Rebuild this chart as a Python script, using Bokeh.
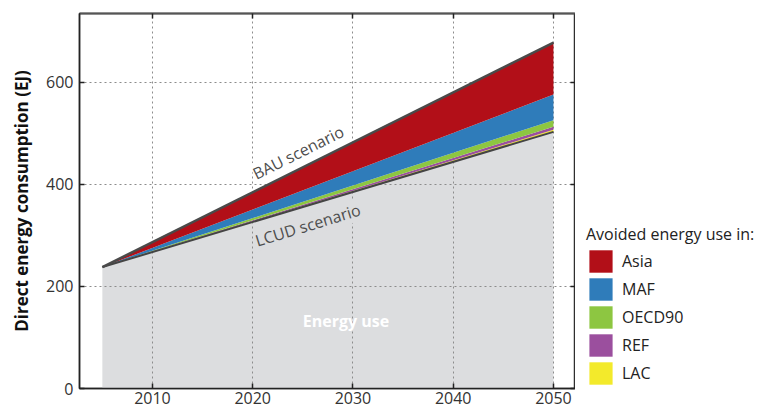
from bokeh.plotting import figure
from bokeh.layouts import row
from bokeh.models import ColumnDataSource, Range1d, LinearAxis, FixedTicker, Legend, LegendItem
from bokeh.core.properties import value
from bokeh.embed import file_html
from bokeh.resources import INLINE

# ---- data ----
years = [2005, 2050]
lcud = [238, 503]          # LCUD scenario energy use (EJ)
avoided_lac = [0, 4]
avoided_ref = [0, 6]
avoided_oecd90 = [0, 13]
avoided_maf = [0, 50]
avoided_asia = [0, 102]
regions = ["LAC", "REF", "OECD90", "MAF", "Asia"]
region_colors = ["#f3ea2b", "#9b4f9e", "#8dc641", "#2f7cba", "#b20f18"]
legend_order = ["Asia", "MAF", "OECD90", "REF", "LAC"]
x_ticks = [2010, 2020, 2030, 2040, 2050]
y_ticks = [0, 200, 400, 600]

FONT = "Open Sans"

src = ColumnDataSource(dict(
    years=years, LCUD=lcud, LAC=avoided_lac, REF=avoided_ref,
    OECD90=avoided_oecd90, MAF=avoided_maf, Asia=avoided_asia,
))
bau = [l + a + b + c + d + e for l, a, b, c, d, e in
       zip(lcud, avoided_lac, avoided_ref, avoided_oecd90, avoided_maf, avoided_asia)]

p = figure(frame_width=496, frame_height=375, x_range=Range1d(2002.72, 2052.2),
           y_range=Range1d(0, 735), output_backend="svg", toolbar_location=None,
           min_border_left=79, min_border_right=0, min_border_top=13, min_border_bottom=23)
p.outline_line_color = "#333333"
p.outline_line_width = 1.5

renderers = p.varea_stack(["LCUD"] + regions, x="years", source=src,
                          color=["#dcdddf"] + region_colors)
renderers[0].level = "image"

p.line(years, lcud, line_color="#444444", line_width=2)
p.line(years, bau, line_color="#4a4a4a", line_width=2.5)

# axes
bottom = p.xaxis[0]
left = p.yaxis[0]
bottom.ticker = FixedTicker(ticks=x_ticks)
left.ticker = FixedTicker(ticks=y_ticks)
top = LinearAxis(ticker=FixedTicker(ticks=x_ticks), major_label_text_font_size="1px",
                 major_label_text_color=None, major_label_standoff=0)
right = LinearAxis(ticker=FixedTicker(ticks=y_ticks), major_label_text_font_size="1px",
                   major_label_text_color=None, major_label_standoff=0)
p.add_layout(top, "above")
p.add_layout(right, "right")
for ax in [bottom, left, top, right]:
    ax.major_tick_in = 5
    ax.major_tick_out = 0
    ax.minor_tick_line_color = None
    ax.axis_line_color = "#222222"
    ax.axis_line_width = 1.5
    ax.major_tick_line_color = "#222222"
    ax.major_tick_line_width = 1.5
for ax in [bottom, left]:
    ax.major_label_text_font = FONT
    ax.major_label_text_font_size = "16px"
    ax.major_label_text_color = "#333333"
left.major_label_standoff = 6
bottom.major_label_standoff = 3
top.axis_line_color = "#555555"
top.axis_line_width = 2

left.axis_label = "Direct energy consumption (EJ)"
left.axis_label_text_font = FONT
left.axis_label_text_font_style = "bold"
left.axis_label_text_font_size = "17px"
left.axis_label_text_color = "#111111"
left.axis_label_standoff = 10

p.xgrid.ticker = FixedTicker(ticks=x_ticks)
p.ygrid.ticker = FixedTicker(ticks=y_ticks)
p.grid.grid_line_dash = "2 3"
p.grid.grid_line_color = "#8c8c8c"
p.grid.grid_line_width = 1

# annotations
p.text(x=[2020.1], y=[419], text=["BAU scenario"], angle=26.5, angle_units="deg",
       text_font=value(FONT), text_font_size="16px", text_color="#4d4d4d",
       text_align="left", text_baseline="alphabetic",
       background_fill_color="white", padding=0)
p.text(x=[2020.3], y=[289], text=["LCUD scenario"], angle=17, angle_units="deg",
       text_font=value(FONT), text_font_size="16px", text_color="#4d4d4d",
       text_align="left", text_baseline="alphabetic",
       background_fill_color="#dcdddf", padding=0)
p.text(x=[2029.3], y=[133], text=["Energy use"], text_font=value(FONT),
       text_font_size="16px", text_font_style="bold", text_color="white",
       text_align="center", text_baseline="middle")

# legend panel (separate figure so it is not clipped by the chart frame);
# its swatch renderers reuse the data but lie outside this panel's ranges
p2 = figure(frame_width=189, frame_height=375, x_range=Range1d(0, 1), y_range=Range1d(0, 1),
            output_backend="svg", toolbar_location=None,
            min_border_left=0, min_border_right=0, min_border_top=13, min_border_bottom=23)
p2.axis.visible = False
p2.grid.visible = False
p2.outline_line_color = None
color_of = dict(zip(regions, region_colors))
items = []
for name in legend_order:
    r = p2.varea(x="years", y1=0, y2=name, source=src, fill_color=color_of[name])
    items.append(LegendItem(label=name, renderers=[r]))
legend = Legend(items=items, title="Avoided energy use in:", location=(11, 1),
                glyph_width=29, glyph_height=28, label_height=28, spacing=0,
                label_standoff=7, padding=0, margin=0, border_line_color=None,
                background_fill_alpha=0, label_text_font=FONT, label_text_font_size="16px",
                label_text_color="#222222", title_text_font=FONT, title_text_font_size="16px",
                title_text_font_style="normal", title_text_color="#222222", title_standoff=2)
p2.add_layout(legend, "center")

layout = row(p, p2)
open("out.html", "w").write(file_html(layout, INLINE))
